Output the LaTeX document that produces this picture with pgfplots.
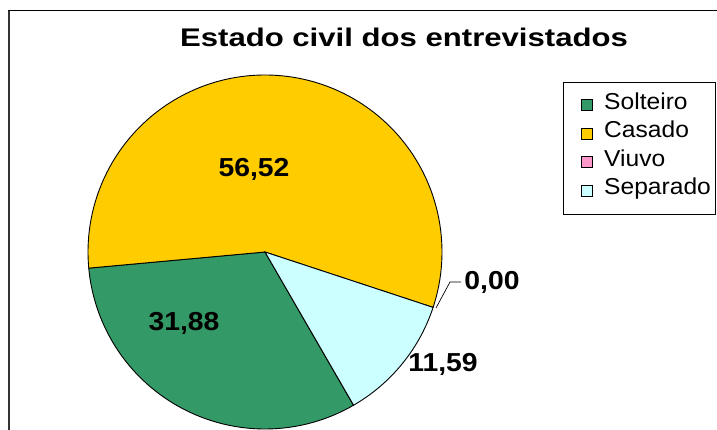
\documentclass[border=0pt]{standalone}
\usepackage{pgfplots}
\pgfplotsset{compat=1.18}
\usepackage{fontspec}
\setmainfont{Liberation Sans}

\definecolor{solteiro}{RGB}{51,153,102}
\definecolor{casado}{RGB}{255,204,0}
\definecolor{viuvo}{RGB}{255,153,204}
\definecolor{separado}{RGB}{204,255,255}

% shares in percent
\def\vSol{31.88}
\def\vCas{56.52}
\def\vViu{0.00}
\def\vSep{11.59}

\newcommand\lbl[1]{\scalebox{1.09}[1]{\fontsize{26}{30}\selectfont\bfseries #1}}
\newcommand\leg[1]{\scalebox{1.07}[1]{\fontsize{23}{27}\selectfont #1}}

\begin{document}
\begin{tikzpicture}
\pgfmathsetmacro\aZero{300}
\pgfmathsetmacro\aSol{\aZero-3.6*\vSol}
\pgfmathsetmacro\aCas{\aSol-3.6*\vCas}
\pgfmathsetmacro\aViu{\aCas-3.6*\vViu}
\pgfmathsetmacro\aSep{\aViu-3.6*\vSep}
\begin{axis}[
  width=717pt,height=430pt,scale only axis,
  xmin=0,xmax=717,ymin=0,ymax=430,
  hide axis,clip=false
]
% frame
\draw[black!80,line width=2pt] (axis cs:9,0) -- (axis cs:9,419);
\draw[black,line width=1pt] (axis cs:8,419) -- (axis cs:717,419);

% wedges, clockwise from 300 deg
\addplot[draw=black,line width=0.9pt,fill=solteiro,domain=\aSol:\aZero,samples=90]
  ({265+177*cos(x)},{178+177*sin(x)}) -- (axis cs:265,178) -- cycle;
\addplot[draw=black,line width=0.9pt,fill=casado,domain=\aCas:\aSol,samples=140]
  ({265+177*cos(x)},{178+177*sin(x)}) -- (axis cs:265,178) -- cycle;
\addplot[draw=black,line width=0.9pt,fill=separado,domain=\aSep:\aViu,samples=40]
  ({265+177*cos(x)},{178+177*sin(x)}) -- (axis cs:265,178) -- cycle;

% data labels
\node[anchor=base] at (axis cs:254,253.5) {\lbl{56,52}};
\node[anchor=base] at (axis cs:184,99) {\lbl{31,88}};
\node[anchor=base] at (axis cs:443,58.3) {\lbl{11,59}};
\node[anchor=base] at (axis cs:492,140) {\lbl{0,00}};
\draw[black,line width=0.7pt] (axis cs:436,122) -- (axis cs:450,148) -- (axis cs:461,148);

% title
\node[anchor=base] at (axis cs:404,383.5) {\scalebox{1.22}[1]{\fontsize{25.5}{30}\selectfont\bfseries Estado civil dos entrevistados}};

% legend
\draw[black,line width=1pt] (axis cs:563,347) rectangle (axis cs:715,215);
\draw[black,line width=0.8pt,fill=solteiro] (axis cs:581,330.5) rectangle (axis cs:592,319.5);
\draw[black,line width=0.8pt,fill=casado] (axis cs:581,302) rectangle (axis cs:592,291);
\draw[black,line width=0.8pt,fill=viuvo] (axis cs:581,273.5) rectangle (axis cs:592,262.5);
\draw[black,line width=0.8pt,fill=separado] (axis cs:581,245) rectangle (axis cs:592,234);
\node[anchor=base west,inner sep=0pt] at (axis cs:604,320.5) {\leg{Solteiro}};
\node[anchor=base west,inner sep=0pt] at (axis cs:604,292) {\leg{Casado}};
\node[anchor=base west,inner sep=0pt] at (axis cs:604,263.5) {\leg{Viuvo}};
\node[anchor=base west,inner sep=0pt] at (axis cs:604,235) {\leg{Separado}};
\end{axis}
\pgfresetboundingbox
\path[use as bounding box] (current axis.south west) rectangle (current axis.north east);
\end{tikzpicture}
\end{document}
